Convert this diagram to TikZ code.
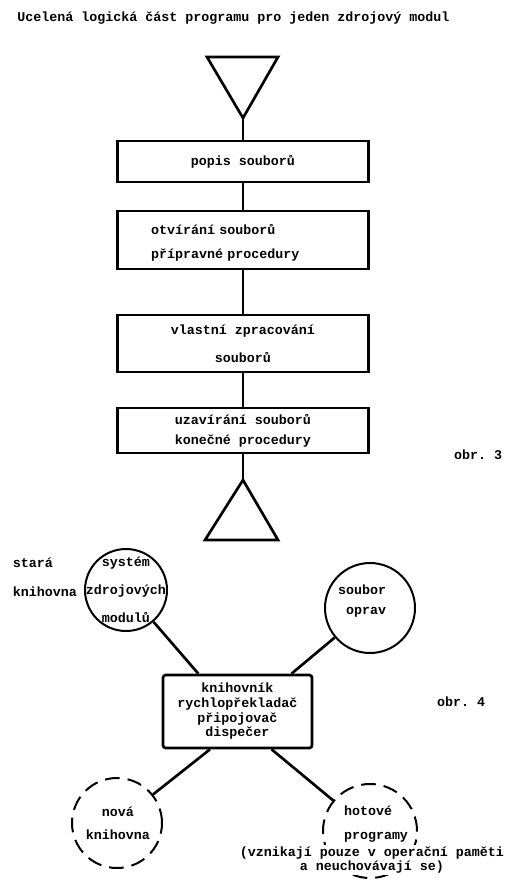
\documentclass[tikz,border=0pt]{standalone}
\usepackage{fontspec}
\setmonofont{Liberation Mono}
\usetikzlibrary{positioning}

\tikzset{
  blok/.style={draw, line width=2pt, minimum width=188pt, inner sep=0pt},
  kruh/.style={draw, circle, line width=1.5pt, inner sep=0pt},
  kruhcar/.style={kruh, dash pattern=on 11pt off 6pt},
  spoj/.style={line width=2pt},
}

\begin{document}
\begin{tikzpicture}[x=0.75pt, y=-0.75pt, font=\ttfamily\bfseries\fontsize{10}{12}\selectfont]
  \useasboundingbox (0,0) rectangle (517,892);

  \node[anchor=base west, inner sep=0pt] (nadpis) at (17,22) {Ucelená logická část programu pro jeden zdrojový modul};

  % obr. 3
  \draw[spoj] (207,57) -- (278,57) -- (243,118) -- cycle;
  \coordinate (vrchol) at (243,118);

  \node[blok, minimum height=30.75pt] (popis) at (243,161.5) {popis souborů};
  \node[blok, minimum height=43.5pt, text width=138pt, align=left, text depth=16pt] (otvirani) at (243,240)
    {otvírání souborů\\[6pt]přípravné procedury};
  \node[blok, minimum height=42.75pt, align=center] (zpracovani) at (243,343.5)
    {vlastní zpracování\\[9pt]souborů};
  \node[blok, minimum height=33.75pt, align=left] (uzavirani) at (243,430.5)
    {uzavírání souborů\\[3pt]konečné procedury};

  \draw[spoj] (243,480) -- (278,540) -- (205,540) -- cycle;
  \coordinate (konec) at (243,480);

  \draw[spoj] (vrchol) -- (popis);
  \draw[spoj] (popis) -- (otvirani);
  \draw[spoj] (otvirani) -- (zpracovani);
  \draw[spoj] (zpracovani) -- (uzavirani);
  \draw[spoj] (uzavirani) -- (konec);

  \node (obr3) at (478,455) {obr. 3};

  % obr. 4
  \node[align=left] (stara) at (45,577) {stará\\[10pt]knihovna};

  \node[kruh, minimum size=61.5pt] (system) at (126,590) {};
  \node[align=center] (systemtext) at (126,590) {systém\\[9pt]zdrojových\\[9pt]modulů};

  \node[kruh, minimum size=67.5pt] (oprava) at (370,608) {};
  \node[align=right] (opravatext) at (362,601) {soubor\\[3pt]oprav};

  \node[blok, minimum width=111.75pt, minimum height=54.75pt, rounded corners=2pt, align=center] (knihovnik) at (237.5,711.5)
    {knihovník\\[-1pt]rychlopřekladač\\[-1pt]připojovač\\[-1pt]dispečer};

  \node (obr4) at (461,702) {obr. 4};

  \node[kruhcar, minimum size=67.5pt] (nova) at (117,823) {};
  \node[align=center] (novatext) at (118,823) {nová\\[5pt]knihovna};

  \node[kruhcar, minimum size=70.5pt] (hotove) at (370,831) {};
  \node[align=left] (hotovetext) at (376,824) {hotové\\[6pt]programy};
  \node[align=center, fill=white, inner sep=1pt] (poznamka) at (372,860)
    {(vznikají pouze v operační paměti\\[-1pt]a neuchovávají se)};

  \draw[spoj] (system) -- (knihovnik.136);
  \draw[spoj] (oprava) -- (knihovnik.35);
  \draw[spoj] (knihovnik.234) -- (nova);
  \draw[spoj] (knihovnik.312) -- (hotove);
\end{tikzpicture}
\end{document}
